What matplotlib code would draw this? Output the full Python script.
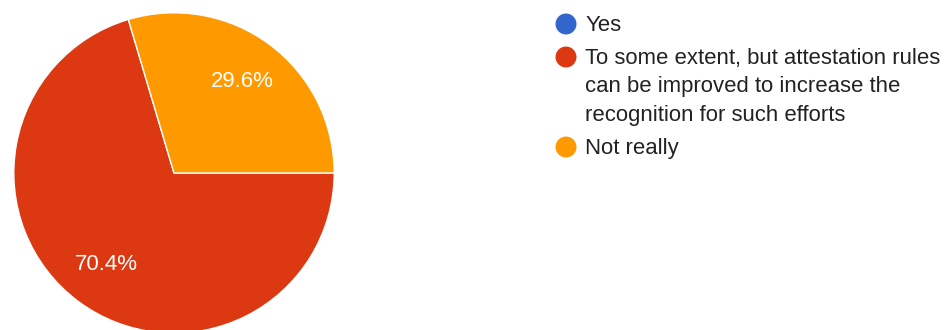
import matplotlib.pyplot as plt

labels = ["Yes",
          "To some extent, but attestation rules\ncan be improved to increase the\nrecognition for such efforts",
          "Not really"]
shares = [0.0, 70.4, 29.6]
colors = ["#3366cc", "#dc3912", "#ff9900"]

plt.rcParams['font.family'] = ['Liberation Sans', 'DejaVu Sans']

fig = plt.figure(figsize=(9.46, 3.30), dpi=100, facecolor='w')

# pie sits in a square box, slightly cut off at the bottom edge
W, H = 946.0, 330.0
ax = fig.add_axes([13/W, -4/H, 322/W, 322/H])
start = 360.0*shares[2]/sum(shares)
wedges, _, autotexts = ax.pie(shares, colors=colors, startangle=start, counterclock=True,
                              autopct=lambda p: '%.1f%%' % p if p > 0 else '',
                              pctdistance=0.71, radius=1.0,
                              wedgeprops=dict(edgecolor='white', linewidth=1.0),
                              textprops=dict(color='white', fontsize=16))
ax.set_xlim(-1.005, 1.005)
ax.set_ylim(-1.005, 1.005)
ax.set_aspect('auto')
ax.axis('off')

# hand-made legend: marker aligned with the first line of each label
lg = fig.add_axes([0, 0, 1, 1])
lg.set_xlim(0, W)
lg.set_ylim(H, 0)
lg.axis('off')
y = 24
for lab, col in zip(labels, colors):
    lg.scatter([566], [y], s=228, color=col, edgecolors='none')
    lg.text(585, y - 9, lab, fontsize=15.9, color='#222222', va='top',
            ha='left', linespacing=1.46)
    y += 33 + 28.5*lab.count('\n')

fig.savefig('out.png', dpi=100, facecolor='w')
